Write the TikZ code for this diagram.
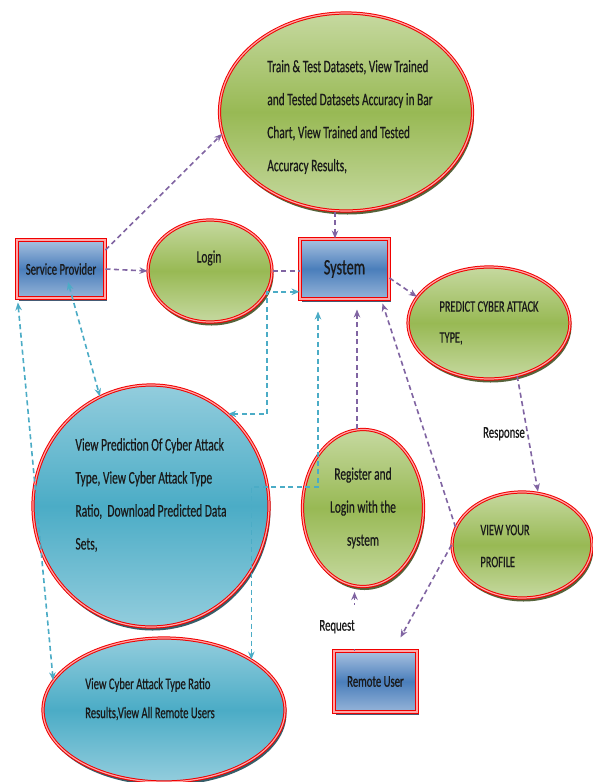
\documentclass[tikz,border=0pt]{standalone}
\usepackage{fontspec}
\setmainfont{Carlito}[FakeStretch=0.65,FakeBold=0.5]
\usetikzlibrary{shapes.geometric,arrows.meta,shadows,calc}
\definecolor{gLight}{HTML}{C6D9A0}
\definecolor{gDark}{HTML}{98B954}
\definecolor{bLight}{HTML}{A9C2E0}
\definecolor{bDark}{HTML}{4A7EBB}
\definecolor{cLight}{HTML}{93CDDD}
\definecolor{cDark}{HTML}{4BACC6}
\definecolor{bordRed}{HTML}{F00000}
\definecolor{lnPurple}{HTML}{8064A2}
\definecolor{lnCyan}{HTML}{4BACC6}
\definecolor{txt}{HTML}{1A1A1A}
\begin{document}
\begin{tikzpicture}[x=1pt,y=-1pt,
  >={Stealth[length=8pt,width=6.5pt]},
  every node/.style={text=txt},
  redline/.style={draw=bordRed, line width=1pt, double=white!65!red, double distance=1.2pt},
  greenshape/.style={ellipse, redline, inner sep=0pt, top color=gLight, bottom color=gLight, middle color=gDark,
    drop shadow={shadow xshift=1.5pt, shadow yshift=-3.5pt, fill=black!55!gDark, opacity=0.9}},
  cyanshape/.style={ellipse, redline, inner sep=0pt, top color=cLight, bottom color=cLight, middle color=cDark,
    drop shadow={shadow xshift=1.5pt, shadow yshift=-3.5pt, fill=black!55!cDark, opacity=0.9}},
  blueshape/.style={rectangle, redline, inner sep=0pt, top color=bLight, bottom color=bLight!80!bDark, middle color=bDark,
    drop shadow={shadow xshift=1.5pt, shadow yshift=-3pt, fill=black!50!bDark, opacity=0.85}},
  plink/.style={draw=lnPurple, line width=1.6pt, dash pattern=on 5pt off 3.5pt},
  clink/.style={draw=lnCyan, line width=1.6pt, dash pattern=on 5pt off 3.5pt},
  fA/.style={font=\fontsize{17.5}{33}\selectfont},
  fB/.style={font=\fontsize{16.5}{31}\selectfont}
]
\fill[white] (0,0) rectangle (593,782);
\useasboundingbox (0,0) rectangle (593,782);

% ---- shapes ----
\node[greenshape, minimum width=253pt, minimum height=198pt] (train) at (346,112) {};
\node[align=left, fA] (trainText) at (350,117)
  {Train \& Test Datasets, View Trained\\and Tested Datasets Accuracy in Bar\\Chart, View Trained and Tested\\Accuracy Results,};

\node[blueshape, minimum width=88pt, minimum height=58pt, fB] (sp) at (61,269) {Service Provider};

\node[greenshape, minimum width=124pt, minimum height=102pt] (login) at (210,271) {};
\node[fA] (loginText) at (209,258) {Login};

\node[blueshape, minimum width=89pt, minimum height=60pt, font=\fontsize{22}{26}\selectfont] (system) at (344.5,269) {System};

\node[greenshape, minimum width=162pt, minimum height=112pt, align=left, font=\fontsize{16}{31}\selectfont] (predict) at (489,323)
  {PREDICT CYBER ATTACK\\TYPE,};

\node[cyanshape, minimum width=236pt, minimum height=242pt] (viewpred) at (151,506) {};
\node[align=left, font=\fontsize{17.7}{33}\selectfont] (viewpredText) at (151,495)
  {View Prediction Of Cyber Attack\\Type, View Cyber Attack Type\\Ratio,\ \ Download Predicted Data\\Sets,};

\node[greenshape, minimum width=121pt, minimum height=157pt, align=center, fA] (register) at (363,508)
  {Register and\\Login with the\\system};

\node[greenshape, minimum width=140pt, minimum height=106pt] (profile) at (522,545) {};
\node[align=left, font=\fontsize{16}{32}\selectfont] (profileText) at (505,546) {VIEW YOUR\\PROFILE};

\node[blueshape, minimum width=83pt, minimum height=61pt, fB] (remote) at (375.5,681.5) {Remote User};

\node[cyanshape, minimum width=242pt, minimum height=144pt] (viewratio) at (164,710) {};
\node[align=left, font=\fontsize{16.3}{29}\selectfont] (viewratioText) at (150,699)
  {View Cyber Attack Type Ratio\\Results,View All Remote Users};

% ---- helper coordinates ----
\coordinate (sysTop) at ($(system.north)+(-9.5,0)$);
\coordinate (sysB1) at ($(system.south)+(-26.5,0)$);
\coordinate (sysB2) at ($(system.south)+(12.5,0)$);
\coordinate (jn) at ($(register.west)+(0,-21)$);
\coordinate (lg) at (login.-20);
\coordinate (rmT) at ($(remote.north)+(-21,0)$);
\coordinate (rmTR) at ($(remote.north east)+(-17,-13)$);
\coordinate (sysBR) at ($(system.south east)+(-7,4)$);
\coordinate (spIn) at ($(sp.center)+(7,13)$);

% ---- purple connectors ----
\draw[plink,->] ([yshift=19pt]sp.east) -- (train.190);
\draw[plink,->] (sp.east) -- (login.west);
\draw[plink] (login.east) -- (login.east -| system.west);
\draw[plink,->] (sysTop |- train.south) -- (sysTop);
\draw[plink,->] ([yshift=-9pt]system.east) -- (predict.160);
\draw[plink,->] (predict.298) -- node[pos=0.5, anchor=east, inner sep=2pt, fB] (respLabel) {Response} ([xshift=16pt]profile.north);
\draw[plink,->, shorten >=10pt] (sysB2 |- register.north) -- (sysB2);
\draw[plink,->] (profile.165) -- (sysBR);
\draw[plink,->] (profile.west) -- (rmTR);
\draw[plink,->, shorten >=5pt] (rmT) -- node[pos=0.375, anchor=east, xshift=3pt, fill=white, inner xsep=2pt, minimum height=44pt, fB] (reqLabel) {Request} (rmT |- register.south);

% ---- cyan connectors ----
\draw[clink,<->] (lg -| system.west) -- (lg) |- (viewpred.50);
\draw[clink,<->, shorten <=12pt] (sysB1) -- (sysB1 |- jn) -| (viewratio.30);
\draw[clink,<->, shorten <=4pt] ([xshift=1pt]sp.south west) -- (viewratio.165);
\draw[clink,<->] (spIn) -- (viewpred.115);
\end{tikzpicture}
\end{document}
